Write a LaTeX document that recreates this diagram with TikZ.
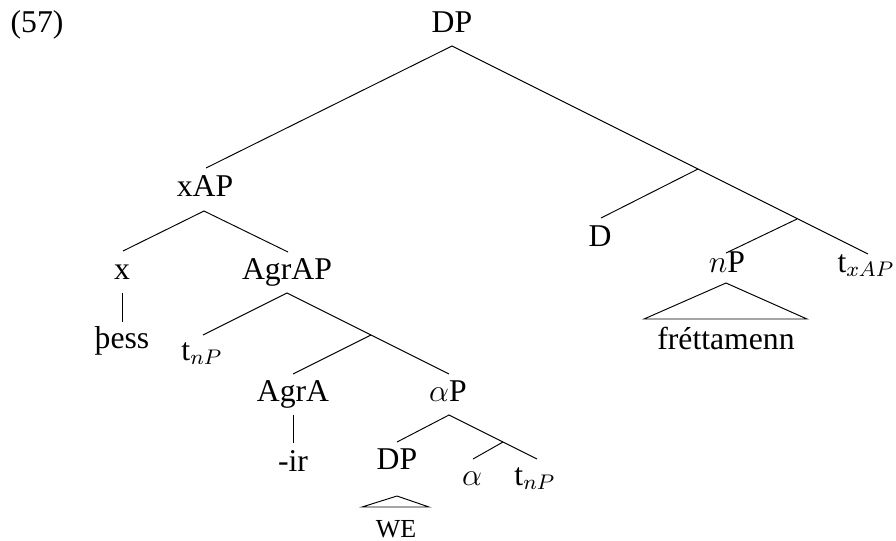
\documentclass[tikz,border=0pt]{standalone}
\usepackage{fontspec}
\setmainfont{LiberationSerif}[Extension=.ttf,UprightFont=*-Regular,BoldFont=*-Bold,ItalicFont=*-Italic]
\begin{document}
\begin{tikzpicture}[x=0.37855pt,y=-0.37855pt,
  lab/.style={inner sep=0pt,anchor=base,font=\fontsize{12}{14}\selectfont},
  small/.style={inner sep=0pt,anchor=base,font=\fontsize{9.84}{12}\selectfont},
  every path/.style={line width=0.36pt}]
\useasboundingbox (0,0) rectangle (896,540);
% labels
\node[lab] (n57) at (37,32) {(57)};
\node[lab] (DP) at (452,32) {DP};
\node[lab] (xAP) at (205,196) {xAP};
\node[lab] (x) at (122,279) {x};
\node[lab] (AgrAP) at (287,279) {AgrAP};
\node[lab] (bess) at (122,348) {þess};
\node[lab] (tnP1) at (202,360) {t$_{nP}$};
\node[lab] (AgrA) at (293,401) {AgrA};
\node[lab] (alphaP) at (448,401) {$\alpha$P};
\node[lab] (ir) at (293,471) {-ir};
\node[lab] (DP2) at (397,469) {DP};
\node[lab] (alpha) at (472,485) {$\alpha$};
\node[lab] (tnP2) at (535,485) {t$_{nP}$};
\node[small] (WE) at (396,537) {WE};
\node[lab] (D) at (600,246) {D};
\node[lab] (nP) at (727,272) {$n$P};
\node[lab] (txAP) at (866,272) {t$_{xAP}$};
\node[lab] (frett) at (726,349) {fréttamenn};
% branch points
\coordinate (b1) at (698,169);
\coordinate (b2) at (797,219);
\coordinate (b3) at (371,335);
\coordinate (b4) at (503,442);
% connectors
\draw ([shift={(1,-28)}]xAP.base) -- ([shift={(0,14)}]DP.base) -- ([shift={(2,-18)}]txAP.base);
\draw (b1) -- ([shift={(1,-28)}]D.base);
\draw (b2) -- ([shift={(-1,-19)}]nP.base);
\draw ([shift={(-1,11)}]nP.base) -- ([shift={(-82,-30)}]frett.base) -- ([shift={(81,-30)}]frett.base) -- cycle;
\draw ([shift={(1,-28)}]x.base) -- ([shift={(-1,15)}]xAP.base) -- ([shift={(1,-27)}]AgrAP.base);
\draw ([shift={(0,14)}]x.base) -- ([shift={(0,-26)}]bess.base);
\draw ([shift={(1,-25)}]tnP1.base) -- ([shift={(0,14)}]AgrAP.base) -- ([shift={(1,-27)}]alphaP.base);
\draw (b3) -- ([shift={(0,-27)}]AgrA.base);
\draw ([shift={(0,14)}]AgrA.base) -- ([shift={(0,-28)}]ir.base);
\draw ([shift={(0,-27)}]DP2.base) -- ([shift={(1,14)}]alphaP.base) -- ([shift={(2,-26)}]tnP2.base);
\draw (b4) -- ([shift={(1,-26)}]alpha.base);
\draw ([shift={(0,27)}]DP2.base) -- ([shift={(-34,-30)}]WE.base) -- ([shift={(33,-30)}]WE.base) -- cycle;
\end{tikzpicture}
\end{document}
